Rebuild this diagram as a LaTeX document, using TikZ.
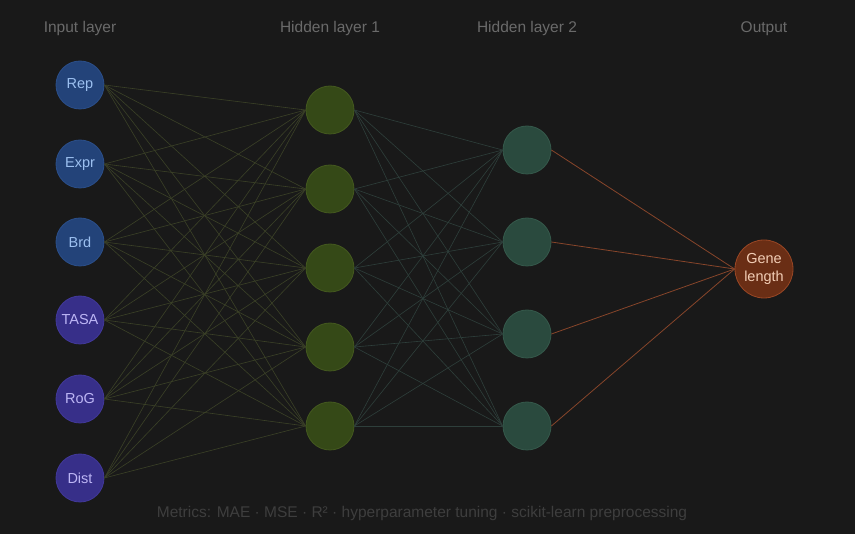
\documentclass[tikz,border=0pt]{standalone}
\usepackage{fontspec}
\setmainfont{Liberation Sans}
\begin{document}
\begin{tikzpicture}[x=1pt,y=-1pt,
  neuron/.style={circle,minimum size=48pt,inner sep=0pt,line width=0.8pt,font=\fontsize{14.5}{16}\selectfont},
  inblue/.style={neuron,fill=inB,draw=inBd,text=inBt},
  inpurp/.style={neuron,fill=inP,draw=inPd,text=inPt},
  hidA/.style={neuron,fill=hA,draw=hAd},
  hidB/.style={neuron,fill=hB,draw=hBd},
  outn/.style={neuron,minimum size=58pt,fill=oF,draw=oD,text=oT,align=center,font=\fontsize{14.5}{18}\selectfont},
  ttl/.style={text=ttlc,anchor=base,font=\fontsize{15.5}{17}\selectfont},
  eA/.style={draw=eAc,line width=0.6pt},
  eB/.style={draw=eBc,line width=0.6pt},
  eC/.style={draw=eCc,line width=0.8pt}
]
\definecolor{bg}{HTML}{191919}
\definecolor{inB}{HTML}{234379}
\definecolor{inBd}{HTML}{2B4F8A}
\definecolor{inBt}{HTML}{9CC0F0}
\definecolor{inP}{HTML}{372F89}
\definecolor{inPd}{HTML}{42399A}
\definecolor{inPt}{HTML}{BDB6F5}
\definecolor{hA}{HTML}{354917}
\definecolor{hAd}{HTML}{44591F}
\definecolor{hB}{HTML}{2A4A3E}
\definecolor{hBd}{HTML}{35594B}
\definecolor{oF}{HTML}{6A2E15}
\definecolor{oD}{HTML}{9A4725}
\definecolor{oT}{HTML}{F2CDB5}
\definecolor{ttlc}{HTML}{6A6A6A}
\definecolor{ftc}{HTML}{3E3E3E}
\definecolor{eAc}{HTML}{3B4127}
\definecolor{eBc}{HTML}{2E3F3B}
\definecolor{eCc}{HTML}{87452A}
\fill[bg] (0,0) rectangle (855,534);
\useasboundingbox (0,0) rectangle (855,534);
% titles
\node[ttl] (t1) at (80,32.5) {Input layer};
\node[ttl] (t2) at (330,32.5) {Hidden layer 1};
\node[ttl] (t3) at (527,32.5) {Hidden layer 2};
\node[ttl] (t4) at (764,32.5) {Output};
% input nodes
\node[inblue] (i1) at (80,85) {Rep};
\node[inblue] (i2) at (80,164) {Expr};
\node[inblue] (i3) at (80,242) {Brd};
\node[inpurp] (i4) at (80,320) {TASA};
\node[inpurp] (i5) at (80,399) {RoG};
\node[inpurp] (i6) at (80,478) {Dist};
% hidden 1
\foreach \k/\y in {1/110,2/189,3/268,4/347,5/426}
  \node[hidA] (a\k) at (330,\y) {};
% hidden 2
\foreach \k/\y in {1/150,2/242,3/334,4/426}
  \node[hidB] (b\k) at (527,\y) {};
% output
\node[outn] (o) at (764,269) {Gene\\length};
% edges
\foreach \i in {1,...,6}
  \foreach \j in {1,...,5}
    \draw[eA] (i\i.east) -- (a\j.west);
\foreach \i in {1,...,5}
  \foreach \j in {1,...,4}
    \draw[eB] (a\i.east) -- (b\j.west);
\foreach \i in {1,...,4}
  \draw[eC] (b\i.east) -- (o.west);
% footer
\node[text=ftc,font=\fontsize{15.5}{17}\selectfont] (ft) at (422,513) {Metrics: MAE · MSE · R² · hyperparameter tuning · scikit-learn preprocessing};
\end{tikzpicture}
\end{document}
